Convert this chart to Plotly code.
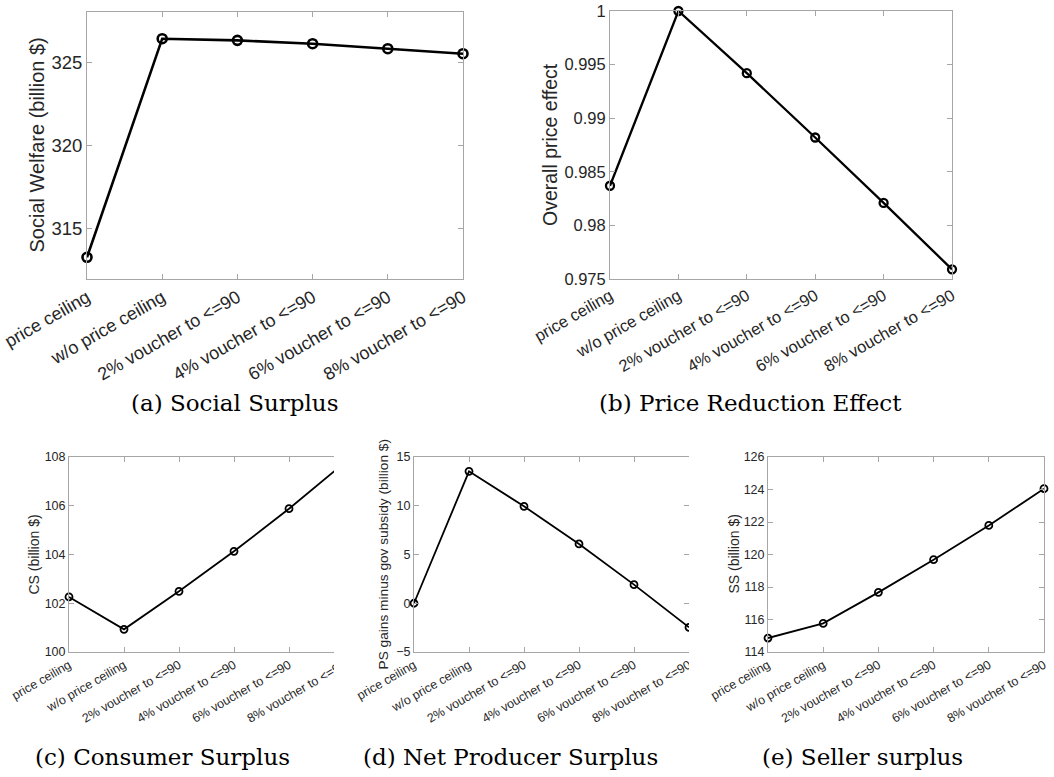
import plotly.graph_objects as go

# ---------------- data ----------------
categories = ["price ceiling", "w/o price ceiling", "2% voucher to <=90",
              "4% voucher to <=90", "6% voucher to <=90", "8% voucher to <=90"]
social_welfare = [313.3, 326.4, 326.3, 326.1, 325.8, 325.5]
price_effect = [0.9837, 1.0, 0.9942, 0.9882, 0.9821, 0.9759]
consumer_surplus = [102.26, 100.93, 102.49, 104.13, 105.88, 107.75]
net_producer_surplus = [0.0, 13.53, 9.94, 6.08, 1.91, -2.47]
seller_surplus = [114.86, 115.76, 117.67, 119.68, 121.79, 124.05]

a_ticks = [315, 320, 325]
b_ticks = [0.975, 0.98, 0.985, 0.99, 0.995, 1.0]
b_ticktext = ["0.975", "0.98", "0.985", "0.99", "0.995", "1"]
c_ticks = [100, 102, 104, 106, 108]
d_ticks = [-5, 0, 5, 10, 15]
e_ticks = [114, 116, 118, 120, 122, 124, 126]

y_titles = ["Social Welfare (billion $)", "Overall price effect", "CS (billion $)",
            "PS gains minus gov subsidy (billion $)", "SS (billion $)"]
captions = ["(a) Social Surplus", "(b) Price Reduction Effect", "(c) Consumer Surplus",
            "(d) Net Producer Surplus", "(e) Seller surplus"]

# ---------------- layout helpers ----------------
W, H = 1054, 777
def fx(px):
    return px / W
def fy(py):
    return 1 - py / H

panels = [
    dict(y=social_welfare, yr=[312, 328], tv=a_ticks, tt=None,
         box=(87, 463, 12, 279), tick=18.5, xtick=18, ttl=20, tx=37, lw=2.6, ms=9),
    dict(y=price_effect, yr=[0.975, 1.0], tv=b_ticks, tt=b_ticktext,
         box=(610, 952, 11, 279), tick=16.5, xtick=16.5, ttl=19.5, tx=550, lw=2.3, ms=8),
    dict(y=consumer_surplus, yr=[100, 108], tv=c_ticks, tt=None,
         box=(69, 344, 457, 652), tick=12.5, xtick=12.5, ttl=14, tx=33, lw=1.8, ms=7),
    dict(y=net_producer_surplus, yr=[-5, 15], tv=d_ticks, tt=None,
         box=(414, 689, 457, 652), tick=12.5, xtick=12.5, ttl=13.7, tx=383, lw=1.8, ms=7),
    dict(y=seller_surplus, yr=[114, 126], tv=e_ticks, tt=None,
         box=(768, 1044, 457, 652), tick=12.5, xtick=12.5, ttl=14, tx=733, lw=1.8, ms=7),
]

caption_pos = [(234, 403), (750, 403), (162, 757), (510, 757), (863, 757)]

fig = go.Figure()
layout = dict(width=W, height=H, margin=dict(l=0, r=0, t=0, b=0, autoexpand=False),
              paper_bgcolor="white", plot_bgcolor="white", showlegend=False,
              font=dict(family="Liberation Sans, Arial, sans-serif", color="#262626"))
annotations = []
shapes = []

for i, p in enumerate(panels):
    n = "" if i == 0 else str(i + 1)
    x0, x1, y0, y1 = p["box"]
    fig.add_trace(go.Scatter(
        x=categories, y=p["y"], mode="lines+markers",
        line=dict(color="black", width=p["lw"]),
        marker=dict(symbol="circle-open", size=p["ms"], color="black",
                    line=dict(width=p["lw"], color="black")),
        cliponaxis=False, xaxis="x" + n, yaxis="y" + n))
    axcommon = dict(showline=True, linecolor="#a6a6a6", linewidth=1, mirror="ticks",
                    ticks="inside", ticklen=5, tickcolor="#a6a6a6", showgrid=False,
                    zeroline=False, automargin=False)
    layout["xaxis" + n] = dict(axcommon, domain=[fx(x0), fx(x1)], anchor="y" + n,
                               type="category", range=[0, 5], tickangle=-30,
                               tickfont=dict(size=p["xtick"], color="#262626"))
    ya = dict(axcommon, domain=[fy(y1), fy(y0)], anchor="x" + n,
              range=p["yr"], tickvals=p["tv"],
              tickfont=dict(size=p["tick"], color="#262626"))
    if p["tt"] is not None:
        ya["ticktext"] = p["tt"]
    layout["yaxis" + n] = ya
    annotations.append(dict(text=y_titles[i], xref="paper", yref="paper",
                            x=fx(p["tx"]), y=fy((y0 + y1) / 2), textangle=-90,
                            showarrow=False, xanchor="center", yanchor="middle",
                            font=dict(size=p["ttl"], color="#262626")))
    cx, cy = caption_pos[i]
    annotations.append(dict(text=captions[i], xref="paper", yref="paper",
                            x=fx(cx), y=fy(cy), showarrow=False,
                            xanchor="center", yanchor="middle",
                            font=dict(family="DejaVu Serif, serif", size=23, color="black")))

# crops of the composite image (panels c and d are cut at their right side)
for (cx0, cx1) in [(334, 355), (689, 711)]:
    shapes.append(dict(type="rect", xref="paper", yref="paper", layer="above",
                       x0=fx(cx0), x1=fx(cx1), y0=fy(686), y1=fy(440),
                       fillcolor="white", line=dict(width=0)))

layout["annotations"] = annotations
layout["shapes"] = shapes
fig.update_layout(**layout)
fig.write_html("out.html")
